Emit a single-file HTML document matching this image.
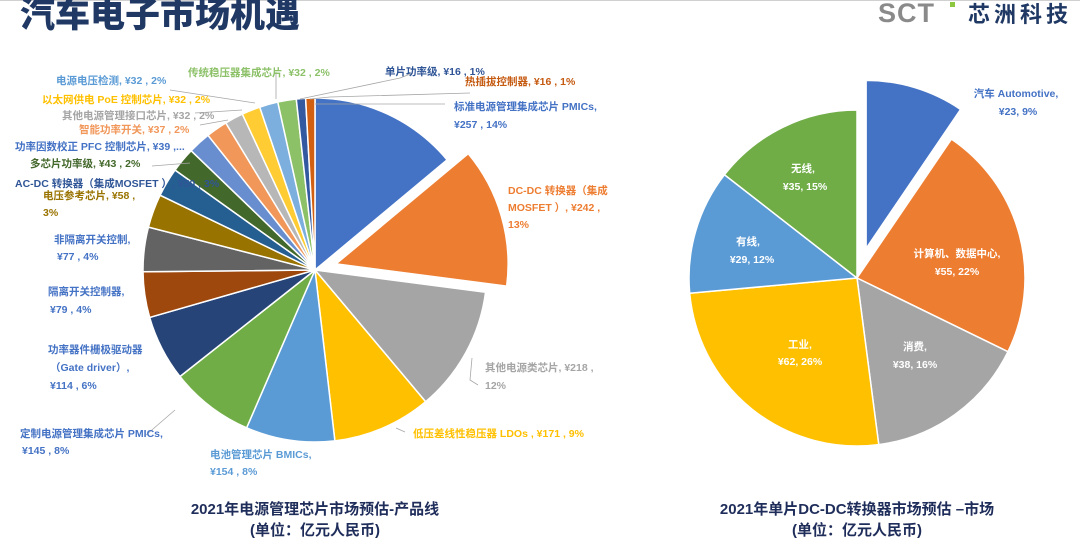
<!DOCTYPE html>
<html><head><meta charset="utf-8"><style>
html,body{margin:0;padding:0;background:#fff;}
body{width:1080px;height:555px;overflow:hidden;position:relative;font-family:"Liberation Sans","Noto Sans CJK SC",sans-serif;}
svg text{font-family:"Liberation Sans","Noto Sans CJK SC",sans-serif;font-weight:bold;}
</style></head><body>
<svg id="s" width="1080" height="555" viewBox="0 0 1080 555" xmlns="http://www.w3.org/2000/svg">
<line x1="0" y1="0.5" x2="1080" y2="0.5" stroke="#d0d0d0" stroke-width="1"/>
<text x="20" y="27" font-size="35" fill="#1F3864" style="font-weight:900">汽车电子市场机遇</text>
<text x="878" y="22" font-size="27" fill="#8a8a8a" style="font-weight:900;letter-spacing:1px">SCT</text>
<rect x="950" y="2" width="5" height="5" fill="#8dc63f"/>
<text x="968" y="22" font-size="22" fill="#1F3864" style="letter-spacing:4px">芯洲科技</text>
<g id="left"></g>
<g id="right"></g>
<g font-size="10.5">
<!-- leader lines -->
<g stroke="#a6a6a6" stroke-width="0.8" fill="none">
<polyline points="445,104 360,104 315,104"/>
<polyline points="470,93 330,97 310,99"/>
<polyline points="413,73 400,78 300,99"/>
<polyline points="276,72 276,99"/>
<polyline points="170,90 255,103"/>
<polyline points="195,113 242,110"/>
<polyline points="200,125 228,120"/>
<polyline points="152,166 190,163"/>
<polyline points="472,358 470,380 478,385"/>
<polyline points="405,432 396,428"/>
<polyline points="146,435 175,410"/>
</g>
<text x="385" y="75" fill="#2F5597">单片功率级, ¥16 , 1%</text>
<text x="465" y="85" fill="#C55A11">热插拔控制器, ¥16 , 1%</text>
<text x="454" y="110" fill="#4472C4">标准电源管理集成芯片 PMICs,</text>
<text x="454" y="128" fill="#4472C4">¥257 , 14%</text>
<text x="508" y="194" fill="#ED7D31">DC-DC 转换器（集成</text>
<text x="508" y="211" fill="#ED7D31">MOSFET ）, ¥242 ,</text>
<text x="508" y="228" fill="#ED7D31">13%</text>
<text x="188" y="76" fill="#8CC168">传统稳压器集成芯片, ¥32 , 2%</text>
<text x="56" y="84" fill="#5B9BD5">电源电压检测, ¥32 , 2%</text>
<text x="42" y="103" fill="#FFC000">以太网供电 PoE 控制芯片, ¥32 , 2%</text>
<text x="62" y="119" fill="#A5A5A5">其他电源管理接口芯片, ¥32 , 2%</text>
<text x="79" y="133" fill="#F1975A">智能功率开关, ¥37 , 2%</text>
<text x="15" y="150" fill="#4472C4">功率因数校正 PFC 控制芯片, ¥39 ,...</text>
<text x="30" y="167" fill="#43682B">多芯片功率级, ¥43 , 2%</text>
<text x="15" y="187" fill="#2F5597">AC-DC 转换器（集成MOSFET ）, ¥50 , 3%</text>
<text x="43" y="199" fill="#997300">电压参考芯片, ¥58 ,</text>
<text x="43" y="216" fill="#997300">3%</text>
<text x="54" y="243" fill="#4472C4">非隔离开关控制,</text>
<text x="57" y="260" fill="#4472C4">¥77 , 4%</text>
<text x="48" y="295" fill="#4472C4">隔离开关控制器,</text>
<text x="50" y="313" fill="#4472C4">¥79 , 4%</text>
<text x="48" y="353" fill="#4472C4">功率器件栅极驱动器</text>
<text x="50" y="371" fill="#4472C4">（Gate driver）,</text>
<text x="50" y="389" fill="#4472C4">¥114 , 6%</text>
<text x="20" y="437" fill="#4472C4">定制电源管理集成芯片 PMICs,</text>
<text x="22" y="454" fill="#4472C4">¥145 , 8%</text>
<text x="210" y="458" fill="#5B9BD5">电池管理芯片 BMICs,</text>
<text x="210" y="475" fill="#5B9BD5">¥154 , 8%</text>
<text x="413" y="437" fill="#FFC000">低压差线性稳压器 LDOs , ¥171 , 9%</text>
<text x="485" y="371" fill="#A5A5A5">其他电源类芯片, ¥218 ,</text>
<text x="485" y="389" fill="#A5A5A5">12%</text>
</g>
<g font-size="10.5" text-anchor="middle">
<text x="1016" y="97" fill="#4472C4">汽车 Automotive,</text>
<text x="1018" y="115" fill="#4472C4">¥23, 9%</text>
<text x="957" y="257" fill="#fff">计算机、数据中心,</text>
<text x="957" y="275" fill="#fff">¥55, 22%</text>
<text x="915" y="350" fill="#fff">消费,</text>
<text x="915" y="368" fill="#fff">¥38, 16%</text>
<text x="800" y="348" fill="#fff">工业,</text>
<text x="800" y="365" fill="#fff">¥62, 26%</text>
<text x="748" y="245" fill="#fff">有线,</text>
<text x="752" y="263" fill="#fff">¥29, 12%</text>
<text x="803" y="172" fill="#fff">无线,</text>
<text x="805" y="190" fill="#fff">¥35, 15%</text>
</g>
<g font-size="15" text-anchor="middle" fill="#1F2D5A">
<text x="315" y="514">2021年电源管理芯片市场预估-产品线</text>
<text x="315" y="535">(单位：亿元人民币)</text>
<text x="857" y="514">2021年单片DC-DC转换器市场预估 –市场</text>
<text x="857" y="535">(单位：亿元人民币)</text>
</g>
</svg>
<script>
function pie(gid,cx,cy,r,vals,cols,explode){
  var g=document.getElementById(gid),tot=vals.reduce(function(a,b){return a+b},0),a=0,ns="http://www.w3.org/2000/svg";
  vals.forEach(function(v,i){
    var a0=a,a1=a+v/tot*2*Math.PI;a=a1;
    var m=(a0+a1)/2,d=explode[i]||0,x=cx+Math.sin(m)*d,y=cy-Math.cos(m)*d;
    var x0=x+r*Math.sin(a0),y0=y-r*Math.cos(a0),x1=x+r*Math.sin(a1),y1=y-r*Math.cos(a1);
    var p=document.createElementNS(ns,"path");
    p.setAttribute("d","M"+x+","+y+"L"+x0+","+y0+"A"+r+","+r+" 0 "+((a1-a0)>Math.PI?1:0)+" 1 "+x1+","+y1+"Z");
    p.setAttribute("fill",cols[i]);p.setAttribute("stroke","#fff");p.setAttribute("stroke-width","1.5");
    g.appendChild(p);
  });
}
pie("left",315,270,172,[257,242,218,171,154,145,114,79,77,58,50,43,39,37,32,32,32,32,16,16],
 ["#4472C4","#ED7D31","#A5A5A5","#FFC000","#5B9BD5","#70AD47","#264478","#9E480E","#636363","#997300","#255E91","#43682B","#698ED0","#F1975A","#B7B7B7","#FFCD33","#7CAFDD","#8CC168","#335AA1","#D26012"],
 {1:22});
pie("right",857,278,168,[23,55,38,62,29,35],["#4472C4","#ED7D31","#A5A5A5","#FFC000","#5B9BD5","#70AD47"],{0:31});
</script>
</body></html>
